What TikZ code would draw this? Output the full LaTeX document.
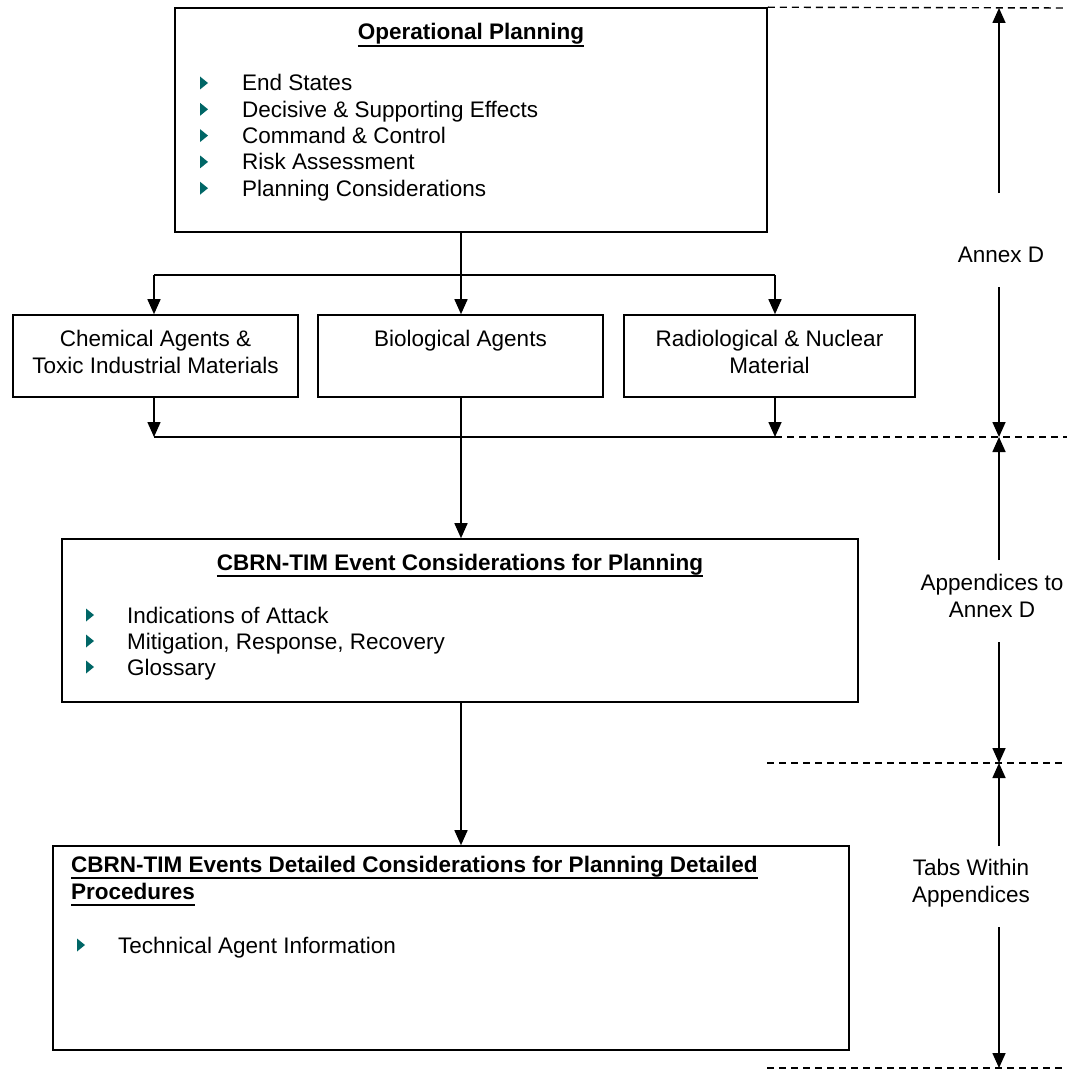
\documentclass[tikz,border=0pt]{standalone}
\usepackage{fontspec}
\setmainfont{Liberation Sans}
\usetikzlibrary{arrows.meta,fit,positioning}
\definecolor{bulletteal}{RGB}{0,102,102}
\newcommand{\ulbf}[1]{\setbox0=\hbox{\bfseries #1}\rlap{\rule[-7pt]{\wd0}{2pt}}\box0}

\begin{document}
\begin{tikzpicture}[
  x={(1pt,0pt)},
  y={(0pt,-1pt)},
  every node/.style={font=\fontsize{22.5}{27}\selectfont, inner sep=0pt},
  box/.style={draw, line width=1.6pt},
  link/.style={line width=1.6pt, -{Triangle[length=15pt,width=13pt]}},
  plain/.style={line width=1.6pt},
  level/.style={line width=1.4pt, dash pattern=on 7pt off 5pt}
]
\useasboundingbox (0,0) rectangle (1067,1070);

% boxes
\node[box, fit={(175,8) (767,232)}] (ops) {};
\node[box, fit={(13,315) (298,397)}] (chem) {};
\node[box, fit={(318,315) (603,397)}] (bio) {};
\node[box, fit={(624,315) (915,397)}] (rad) {};
\node[box, fit={(62,539) (858,702)}] (cons) {};
\node[box, fit={(53,846) (849,1050)}] (detail) {};

% titles
\node[anchor=base] (ops-title) at (471,40) {\ulbf{Operational Planning}};
\node[anchor=base] (cons-title) at (460,570) {\ulbf{CBRN-TIM Event Considerations for Planning}};
\node[anchor=base west] (detail-title) at (71,872) {\ulbf{CBRN-TIM Events Detailed Considerations for Planning Detailed}};
\node[anchor=base west] (detail-title2) at (71,899) {\ulbf{Procedures}};

% bullet lists
\foreach \entry [count=\i] in {End States, Decisive \& Supporting Effects, Command \& Control, Risk Assessment, Planning Considerations}
{
  \node[anchor=base west] (ops-\i) at (242,{91+26.3*(\i-1)}) {\entry};
  \fill[bulletteal] (ops-\i.base west) ++(-42,-14.5) -- ++(8,6.5) -- ++(-8,6.5) -- cycle;
}
\foreach \entry [count=\i] in {Indications of Attack, {Mitigation, Response, Recovery}, Glossary}
{
  \node[anchor=base west] (cons-\i) at (127,{623+26*(\i-1)}) {\entry};
  \fill[bulletteal] (cons-\i.base west) ++(-41,-14.5) -- ++(8,6.5) -- ++(-8,6.5) -- cycle;
}
\node[anchor=base west] (detail-1) at (118,953) {Technical Agent Information};
\fill[bulletteal] (detail-1.base west) ++(-41,-14.5) -- ++(8,6.5) -- ++(-8,6.5) -- cycle;

% agent boxes
\node[below=15.5pt of chem.north, align=center] (chem-text) {Chemical Agents \&\\Toxic Industrial Materials};
\node[below=15.5pt of bio.north, align=center] (bio-text) {Biological Agents};
\node[below=15.5pt of rad.north, align=center] (rad-text) {Radiological \& Nuclear\\Material};

% connectors
\coordinate (split) at (461,275);
\coordinate (split-l) at (154,275);
\coordinate (split-r) at (775,275);
\coordinate (merge-l) at (154,437);
\coordinate (merge-r) at (775,437);

\draw[plain] (split |- ops.south) -- (split);
\draw[plain] (split-l) -- (split-r);
\draw[link] (split-l) -- (split-l |- chem.north);
\draw[link] (split) -- (split |- bio.north);
\draw[link] (split-r) -- (split-r |- rad.north);
\draw[link] (merge-l |- chem.south) -- (merge-l);
\draw[link] (merge-r |- rad.south) -- (merge-r);
\draw[plain] (merge-l) -- (merge-r);
\draw[link] (split |- bio.south) -- (split |- cons.north);
\draw[link] (split |- cons.south) -- (split |- detail.north);

% levels on the right
\coordinate (lvl-0) at (999,8);
\coordinate (lvl-1) at (999,437);
\coordinate (lvl-2) at (999,763);
\coordinate (lvl-3) at (999,1068);

\draw[level] (ops.north east) -- (1067,8);
\draw[level] (merge-r) -- (1067,437);
\draw[level] (767,763) -- (1067,763);
\draw[level] (767,1068) -- (1067,1068);

\node[align=center] (annex) at (1001,255) {Annex D};
\node[align=center] (appx) at (992,596) {Appendices to\\Annex D};
\node[align=center] (tabs) at (971,883.6) {Tabs Within\\Appendices};

\draw[link] (lvl-0 |- 0,193) -- (lvl-0);
\draw[link] (lvl-0 |- 0,287) -- (lvl-1);
\draw[link] (lvl-1 |- 0,560) -- (lvl-1);
\draw[link] (lvl-1 |- 0,642) -- (lvl-2);
\draw[link] (lvl-2 |- 0,846) -- (lvl-2);
\draw[link] (lvl-2 |- 0,927) -- (lvl-3);
\end{tikzpicture}
\end{document}
